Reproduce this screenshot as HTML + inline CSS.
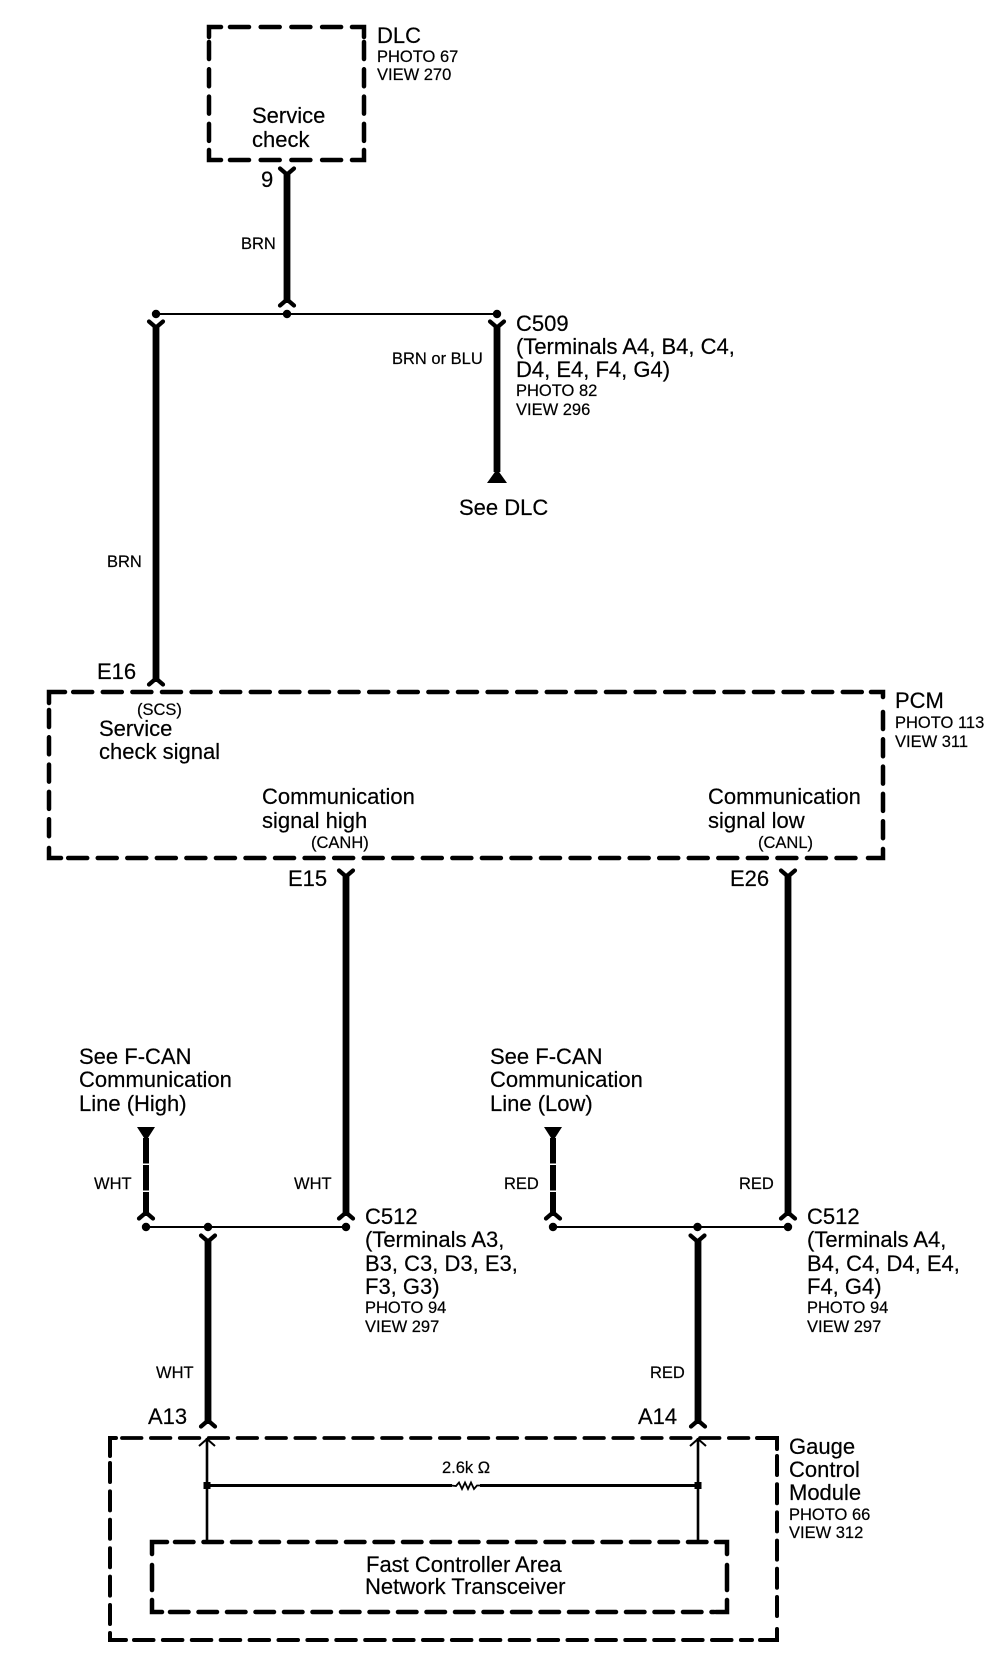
<!DOCTYPE html>
<html><head><meta charset="utf-8"><style>
html,body{margin:0;padding:0;background:#fff}
svg{display:block}
text{font-family:"Liberation Sans",sans-serif;fill:#000;font-size:22px;stroke:#000;stroke-width:.2}
text.s{font-size:16.5px}
.w{stroke:#000;stroke-width:6.8;fill:none}
.t{stroke:#000;stroke-width:2;fill:none}
.d{stroke:#000;stroke-width:4.5;fill:none;stroke-linecap:round;stroke-linejoin:miter}
.f{stroke:#000;stroke-width:4.2;fill:none;stroke-linecap:round;stroke-linejoin:round}
</style></head><body>
<svg xmlns="http://www.w3.org/2000/svg" width="1008" height="1674" viewBox="0 0 1008 1674">
<defs>
<path id="y" class="f" d="M-7,1.5 L0,7.5 L7,1.5"/>
<path id="a" class="f" d="M-7,-1.5 L0,-7.5 L7,-1.5"/>
</defs>
<rect width="1008" height="1674" fill="#fff"/>

<!-- DLC box -->
<path class="d" d="M209,37 V27 H221"/>
<path class="d" d="M230,27 H344" stroke-dasharray="19 11.7"/>
<path class="d" d="M352,27 H364 V37"/>
<path class="d" d="M209,42 V142" stroke-dasharray="17 10.3"/>
<path class="d" d="M364,42 V142" stroke-dasharray="17 10.3"/>
<path class="d" d="M209,150 V160 H221"/>
<path class="d" d="M230,160 H344" stroke-dasharray="19 11.7"/>
<path class="d" d="M352,160 H364 V150"/>

<!-- DLC labels -->
<text x="377" y="43">DLC</text>
<text class="s" x="377" y="62">PHOTO 67</text>
<text class="s" x="377" y="80">VIEW 270</text>
<text x="252" y="123">Service</text>
<text x="252" y="147">check</text>
<text x="261" y="187">9</text>
<text class="s" x="241" y="249">BRN</text>

<!-- wire 9 -->
<path class="w" d="M287,173 V303"/>
<use href="#y" x="287" y="167"/>
<use href="#a" x="287" y="307"/>

<!-- junction C509 -->
<path class="t" d="M156,314 H497"/>
<circle cx="156" cy="314" r="4.2"/><circle cx="287" cy="314" r="4.2"/><circle cx="497" cy="314" r="4.2"/>
<use href="#y" x="156" y="320"/>
<use href="#y" x="497" y="320"/>
<path class="w" d="M156,326 V682"/>
<path class="w" d="M497,326 V472"/>
<path d="M497,469 L507,483 H487 Z" fill="#000"/>
<use href="#a" x="156" y="686"/>

<text x="516" y="331">C509</text>
<text x="516" y="354">(Terminals A4, B4, C4,</text>
<text x="516" y="377">D4, E4, F4, G4)</text>
<text class="s" x="516" y="396">PHOTO 82</text>
<text class="s" x="516" y="415">VIEW 296</text>
<text class="s" x="392" y="364">BRN or BLU</text>
<text x="459" y="515">See DLC</text>
<text class="s" x="107" y="567">BRN</text>

<!-- PCM -->
<path class="d" d="M49,703 V692 H65"/>
<path class="d" d="M73.2,692 H866" stroke-dasharray="19 10.6"/>
<path class="d" d="M871,692 H883 V697"/>
<path class="d" d="M49,710 V843" stroke-dasharray="17 10.3"/>
<path class="d" d="M883,712 V843" stroke-dasharray="17 10.3"/>
<path class="d" d="M49,848 V858 H61"/>
<path class="d" d="M68.2,858 H862" stroke-dasharray="19 10.55"/>
<path class="d" d="M868,858 H883 V849"/>

<text x="97" y="679">E16</text>
<text class="s" x="137" y="715">(SCS)</text>
<text x="99" y="736">Service</text>
<text x="99" y="759">check signal</text>
<text x="262" y="804">Communication</text>
<text x="262" y="828">signal high</text>
<text class="s" x="311" y="848">(CANH)</text>
<text x="708" y="804">Communication</text>
<text x="708" y="828">signal low</text>
<text class="s" x="758" y="848">(CANL)</text>
<text x="895" y="708">PCM</text>
<text class="s" x="895" y="728">PHOTO 113</text>
<text class="s" x="895" y="747">VIEW 311</text>
<text x="288" y="886">E15</text>
<text x="730" y="886">E26</text>

<!-- CAN wires -->
<use href="#y" x="346" y="869"/>
<use href="#y" x="788" y="869"/>
<path class="w" d="M346,875 V1216"/>
<path class="w" d="M788,875 V1216"/>
<use href="#a" x="346" y="1220"/>
<use href="#a" x="788" y="1220"/>

<!-- Left junction -->
<text x="79" y="1064">See F-CAN</text>
<text x="79" y="1087">Communication</text>
<text x="79" y="1111">Line (High)</text>
<path d="M137,1127 H155 L146,1141 Z" fill="#000"/>
<path d="M146,1138 V1163.5 M146,1165 V1190.5 M146,1192 V1216" stroke="#000" stroke-width="6" fill="none"/>
<use href="#a" x="146" y="1220"/>
<text class="s" x="94" y="1189">WHT</text>
<text class="s" x="294" y="1189">WHT</text>
<path class="t" d="M146,1227 H346"/>
<circle cx="146" cy="1227" r="4.2"/><circle cx="208" cy="1227" r="4.2"/><circle cx="346" cy="1227" r="4.2"/>
<use href="#y" x="208" y="1234"/>
<path class="w" d="M208,1240 V1424"/>
<use href="#a" x="208" y="1428"/>
<text x="365" y="1224">C512</text>
<text x="365" y="1247">(Terminals A3,</text>
<text x="365" y="1271">B3, C3, D3, E3,</text>
<text x="365" y="1294">F3, G3)</text>
<text class="s" x="365" y="1313">PHOTO 94</text>
<text class="s" x="365" y="1332">VIEW 297</text>

<!-- Right junction -->
<text x="490" y="1064">See F-CAN</text>
<text x="490" y="1087">Communication</text>
<text x="490" y="1111">Line (Low)</text>
<path d="M544,1127 H562 L553,1141 Z" fill="#000"/>
<path d="M553,1138 V1163.5 M553,1165 V1190.5 M553,1192 V1216" stroke="#000" stroke-width="6" fill="none"/>
<use href="#a" x="553" y="1220"/>
<text class="s" x="504" y="1189">RED</text>
<text class="s" x="739" y="1189">RED</text>
<path class="t" d="M553,1227 H788"/>
<circle cx="553" cy="1227" r="4.2"/><circle cx="697.5" cy="1227" r="4.2"/><circle cx="788" cy="1227" r="4.2"/>
<use href="#y" x="697.5" y="1234"/>
<path class="w" d="M698,1240 V1424"/>
<use href="#a" x="698" y="1428"/>
<text x="807" y="1224">C512</text>
<text x="807" y="1247">(Terminals A4,</text>
<text x="807" y="1271">B4, C4, D4, E4,</text>
<text x="807" y="1294">F4, G4)</text>
<text class="s" x="807" y="1313">PHOTO 94</text>
<text class="s" x="807" y="1332">VIEW 297</text>

<text class="s" x="156" y="1378">WHT</text>
<text class="s" x="650" y="1378">RED</text>
<text x="148" y="1424">A13</text>
<text x="638" y="1424">A14</text>

<!-- Gauge module -->
<path class="d" style="stroke-width:4" d="M110,1456 V1438 H116"/>
<path class="d" style="stroke-width:3.8" d="M122,1438 H751" stroke-dasharray="19.5 9.4"/>
<path class="d" style="stroke-width:4" d="M757,1438 H777 V1449"/>
<path class="d" style="stroke-width:4" d="M110,1463 V1628" stroke-dasharray="19 9.4"/>
<path class="d" style="stroke-width:4" d="M777,1456 V1622" stroke-dasharray="19 9.2"/>
<path class="d" style="stroke-width:4" d="M110,1633 V1640 H126"/>
<path class="d" style="stroke-width:4" d="M134,1640 H752" stroke-dasharray="19.5 9.4"/>
<path class="d" style="stroke-width:4" d="M760,1640 H777 V1629"/>

<path class="d" d="M152,1554 V1542 H167"/>
<path class="d" d="M175,1542 H711" stroke-dasharray="18.5 10"/>
<path class="d" d="M716,1542 H727 V1554"/>
<path class="d" d="M152,1565 V1590"/>
<path class="d" d="M727,1565 V1590"/>
<path class="d" d="M152,1600 V1612 H162"/>
<path class="d" d="M170,1612 H714" stroke-dasharray="18.5 10"/>
<path class="d" d="M716,1612 H727 V1600"/>

<path d="M207,1438 V1542 M698,1438 V1542" stroke="#000" stroke-width="2.6" fill="none"/>
<path d="M199,1446 L207,1439 L215,1446 M690,1446 L698,1439 L706,1446" stroke="#000" stroke-width="2" fill="none"/>
<path d="M207,1485.5 H452 M480,1485.5 H698" stroke="#000" stroke-width="3" fill="none"/>
<rect x="203.5" y="1482" width="7" height="7"/>
<rect x="694.5" y="1482" width="7" height="7"/>
<path d="M451,1485.5 L456,1486 L459,1482.5 L462,1489 L465,1482.5 L468,1489 L471,1482.5 L474,1489 L477,1485.5 L481,1485.5" stroke="#000" stroke-width="1.8" fill="none"/>
<text class="s" x="442" y="1473">2.6k Ω</text>
<text x="366" y="1572">Fast Controller Area</text>
<text x="365" y="1594">Network Transceiver</text>
<text x="789" y="1454">Gauge</text>
<text x="789" y="1477">Control</text>
<text x="789" y="1500">Module</text>
<text class="s" x="789" y="1520">PHOTO 66</text>
<text class="s" x="789" y="1538">VIEW 312</text>
</svg>
</body></html>
